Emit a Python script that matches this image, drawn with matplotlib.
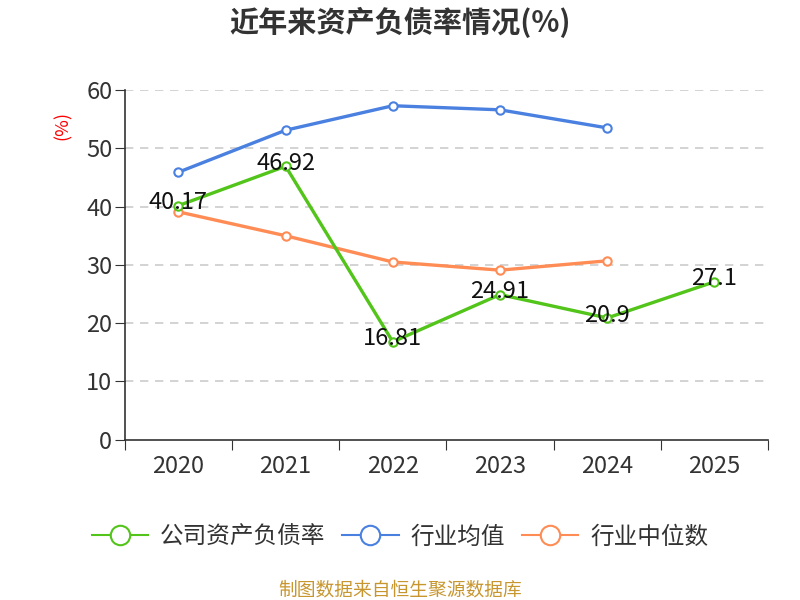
import matplotlib
matplotlib.use("Agg")
import matplotlib.pyplot as plt
from matplotlib.ticker import FixedLocator
from matplotlib.lines import Line2D

plt.rcParams['font.family'] = ['Noto Sans CJK SC', 'DejaVu Sans']

# данные
years = ["2020", "2021", "2022", "2023", "2024", "2025"]
company = [40.17, 46.92, 16.81, 24.91, 20.9, 27.1]
industry_avg = [45.9, 53.1, 57.3, 56.6, 53.5]
industry_median = [39.1, 35.0, 30.5, 29.1, 30.7]
series_names = ["公司资产负债率", "行业均值", "行业中位数"]
colors = ["#52c41a", "#4a80e0", "#ff8c55"]

fig = plt.figure(figsize=(8, 6), dpi=100)
ax = fig.add_axes([0.156, 0.267, 0.804, 0.583])

x = list(range(len(years)))
series = [company, industry_avg, industry_median]
for vals, col, z in zip(series, colors, [4, 3, 3]):
    ax.plot(x[:len(vals)], vals, color=col, lw=2.4, marker="o", ms=6,
            mfc="white", mec=col, mew=1.5, zorder=z)

# подписи значений
for xi, v in zip(x, company):
    ax.text(xi, v + 0.5, f"{v:g}", ha="center", va="center", fontsize=17,
            color="#111111", zorder=5)

ax.set_xlim(-0.5, len(years) - 0.5)
ax.set_ylim(0, 60)
ax.xaxis.set_major_locator(FixedLocator([i - 0.5 for i in range(len(years) + 1)]))
ax.xaxis.set_minor_locator(FixedLocator(x))
ax.set_xticklabels([])
ax.set_xticklabels(years, minor=True)
ax.tick_params(axis="x", which="major", length=7, color="#333333", direction="out")
ax.tick_params(axis="x", which="minor", length=0, pad=11, labelsize=17, labelcolor="#333333")
ax.yaxis.set_major_locator(FixedLocator([0, 10, 20, 30, 40, 50, 60]))
ax.tick_params(axis="y", length=7, color="#333333", labelsize=17, labelcolor="#333333", pad=2)

for s in ["top", "right"]:
    ax.spines[s].set_visible(False)
for s in ["left", "bottom"]:
    ax.spines[s].set_color("#333333")
    ax.spines[s].set_linewidth(1.2)

for yv in [10, 20, 30, 40, 50, 60]:
    ax.axhline(yv, color="#cccccc", lw=1.2, ls=(0, (5, 4)), zorder=1)

fig.text(0.078, 0.79, "(%)", color="red", rotation=90, fontsize=13, ha="center", va="center")

fig.text(0.5, 0.962, "近年来资产负债率情况(%)", ha="center", va="center",
         fontsize=21, fontweight="bold", color="#333333")

handles = [Line2D([0], [0], color=c, lw=1.5, marker="o", ms=14, mfc="white", mec=c, mew=1.5)
           for c in colors]
fig.legend(handles, series_names, loc="center", bbox_to_anchor=(0.5, 0.105),
           ncol=3, frameon=False, fontsize=17, handlelength=2.4, columnspacing=0.7,
           handletextpad=0.5, labelcolor="#333333")

fig.text(0.5, 0.017, "制图数据来自恒生聚源数据库", ha="center", va="center",
         fontsize=13.5, color="#c8962e")

fig.savefig("out.png", dpi=100)
